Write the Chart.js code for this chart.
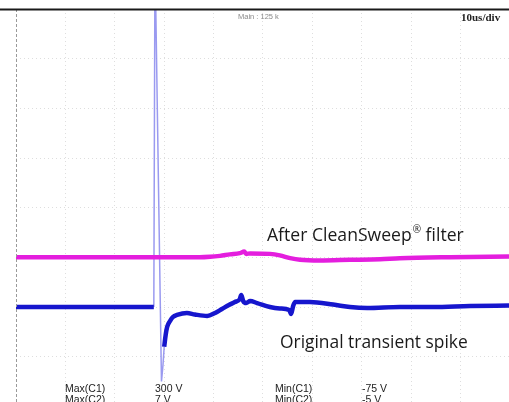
<!DOCTYPE html>
<html>
<head>
<meta charset="utf-8">
<script src="https://cdn.jsdelivr.net/npm/chart.js@4.4.1/dist/chart.umd.min.js"></script>
<style>
  body { margin: 0; background: #fff; }
  canvas { display: block; }
</style>
</head>
<body>
<canvas id="scope" width="509" height="402"></canvas>
<script>
// Scope capture, 10 us/div, 50 V/div (C2 shown one division above C1)

// C1 - original transient (thick part)
const timeC1 = [0, 27.9, 29.96, 30.0, 30.3, 30.6, 31.2, 31.8, 32.6, 34.6, 36.2, 38.7, 40.3, 41.7, 43.1, 44.3, 45.3, 45.6, 46.0, 46.6, 47.4, 48.8, 51.4, 53.4, 55.3, 55.7, 56.1, 56.5, 59.5, 64.2, 67.6, 71.1, 77.7, 84.4, 91.9, 99.8];
const voltsC1 = [0, 0, null, -40, -28, -20, -14, -10, -8, -6, -7.5, -9, -6, -2, 2, 5, 8, 12, 6, 4, 6, 4, 0, -1.5, -3, -7, 1, 5, 5, 2.5, 0, -1, 0, 0, 1, 1.5];

// C1 - fast spike (drawn thin)
const timeSpike = [27.9, 28.1, 28.3, 29.45, 29.76, 30.0];
const voltsSpike = [0, 300, 300, -75, -58, -40];

// C2 - after filter
const timeC2 = [0, 17.0, 37.2, 39.3, 41.3, 43.3, 45.3, 46.2, 46.6, 47.4, 51.4, 53.4, 55.5, 57.5, 61.5, 67.6, 73.7, 77.7, 87.9, 99.8];
const voltsC2 = [0, 0, 0, 0.5, 1.5, 3, 4.2, 5.8, 3.5, 4, 3.5, 2, -0.8, -2.5, -3.2, -2.5, -1.8, -0.8, 0.2, 0.8];

// grid
const gridTime = [10, 20, 30, 40, 50, 60, 70, 80, 90];
const gridVolts = [-50, 0, 50, 100, 150, 200, 250];

// measurements at the bottom
const measNames = ['Max(C1)', 'Max(C2)'];
const measMax = ['300 V', '7 V'];
const minNames = ['Min(C1)', 'Min(C2)'];
const measMin = ['-75 V', '-5 V'];

function puntos(xs, ys) {
    return xs.map(function(x, i) { return { x: x, y: ys[i] }; });
}

const bordes = {
    id: 'bordes',
    afterDraw(chart) {
        const ctx = chart.ctx;
        const a = chart.chartArea;
        ctx.save();
        // left dashed frame
        ctx.strokeStyle = '#9a9a9a';
        ctx.lineWidth = 1;
        ctx.setLineDash([3, 2]);
        ctx.beginPath();
        ctx.moveTo(a.left + 0.5, a.top);
        ctx.lineTo(a.left + 0.5, a.bottom);
        ctx.stroke();
        ctx.setLineDash([]);
        // top frame
        ctx.strokeStyle = '#1a1a1a';
        ctx.lineWidth = 2;
        ctx.beginPath();
        ctx.moveTo(0, a.top + 0.5);
        ctx.lineTo(chart.width, a.top + 0.5);
        ctx.stroke();

        // header texts
        ctx.fillStyle = '#8a8a8a';
        ctx.font = '7.5px "Liberation Sans"';
        ctx.textBaseline = 'alphabetic';
        ctx.fillText('Main : 125 k', 238, 19);
        ctx.fillStyle = '#222';
        ctx.font = 'bold 11px "Liberation Serif"';
        ctx.fillText('10us/div', 461, 21);

        // trace labels
        ctx.fillStyle = '#1a1a1a';
        ctx.font = '17.6px "Open Sans"';
        let x = 267;
        ctx.fillText('After CleanSweep', x, 241);
        x += ctx.measureText('After CleanSweep').width;
        ctx.font = '10px "Open Sans"';
        ctx.fillText('\u00AE', x + 1, 233);
        x += ctx.measureText('\u00AE').width + 1;
        ctx.font = '17.6px "Open Sans"';
        ctx.fillText(' filter', x, 241);
        ctx.font = '17.4px "Open Sans"';
        ctx.fillText('Original transient spike', 280, 348);

        // measurements
        ctx.font = '10.5px "Liberation Sans"';
        ctx.fillStyle = '#222';
        for (let i = 0; i < measNames.length; i++) {
            const y = 392 + i * 11;
            ctx.fillText(measNames[i], 65, y);
            ctx.fillText(measMax[i], 155, y);
            ctx.fillText(minNames[i], 275, y);
            ctx.fillText(measMin[i], 362, y);
        }
        ctx.restore();
    }
};

const ctx = document.getElementById('scope').getContext('2d');
const scope = new Chart(ctx, {
    type: 'line',
    data: {
        datasets: [{
            label: 'C2',
            data: puntos(timeC2, voltsC2),
            yAxisID: 'y2',
            borderColor: 'rgb(228, 30, 222)',
            borderWidth: 4.5,
            pointRadius: 0,
            cubicInterpolationMode: 'monotone'
        }, {
            label: 'C1',
            data: puntos(timeC1, voltsC1),
            yAxisID: 'y',
            borderColor: 'rgb(22, 22, 205)',
            borderWidth: 4.5,
            pointRadius: 0,
            cubicInterpolationMode: 'monotone',
            spanGaps: false
        }, {
            label: 'C1 spike',
            data: puntos(timeSpike, voltsSpike),
            yAxisID: 'y',
            borderColor: 'rgba(120, 120, 235, 0.75)',
            borderWidth: 1.5,
            pointRadius: 0,
            tension: 0
        }]
    },
    options: {
        responsive: false,
        animation: false,
        layout: { padding: { left: 16, top: 9, right: 0, bottom: 0 } },
        plugins: {
            legend: { display: false },
            tooltip: { enabled: false }
        },
        scales: {
            x: {
                type: 'linear',
                min: 0,
                max: 99.8,
                ticks: { display: false },
                grid: { color: 'rgba(0,0,0,0.13)', drawTicks: false, lineWidth: 1 },
                border: { display: false, dash: [1, 3] },
                afterBuildTicks: function(scale) {
                    scale.ticks = gridTime.map(function(v) { return { value: v }; });
                }
            },
            y: {
                min: -95.6,
                max: 300,
                ticks: { display: false },
                grid: { color: 'rgba(0,0,0,0.13)', drawTicks: false, lineWidth: 1 },
                border: { display: false, dash: [1, 3] },
                afterBuildTicks: function(scale) {
                    scale.ticks = gridVolts.map(function(v) { return { value: v }; });
                }
            },
            y2: {
                display: false,
                min: -145.6,
                max: 250
            }
        }
    },
    plugins: [bordes]
});
</script>
</body>
</html>
